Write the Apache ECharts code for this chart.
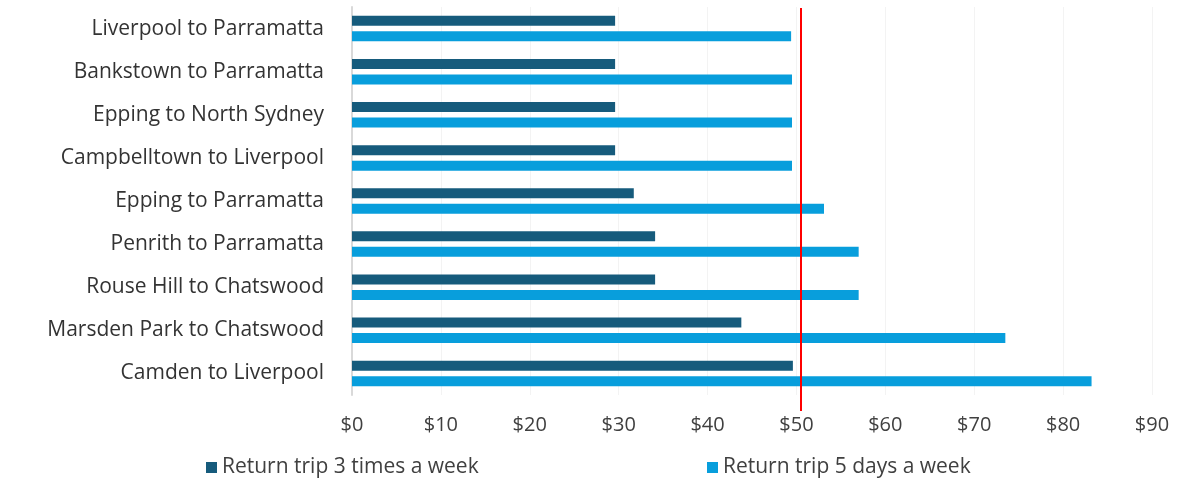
<!DOCTYPE html>
<html lang="en">

<head>
    <meta charset="UTF-8">
    <title>Return trip costs</title>
    <script src="https://cdn.jsdelivr.net/npm/echarts@6/dist/echarts.min.js"></script>
    <style>
        body,
        html {
            padding: 0;
            margin: 0;
            background: #fff;
        }

        #chart-panel {
            height: 481px;
            width: 1183px;
        }
    </style>
</head>

<body>
    <div id="chart-panel"></div>
    <script>
        // routes, top to bottom
        var routes = [
            'Liverpool to Parramatta',
            'Bankstown to Parramatta',
            'Epping to North Sydney',
            'Campbelltown to Liverpool',
            'Epping to Parramatta',
            'Penrith to Parramatta',
            'Rouse Hill to Chatswood',
            'Marsden Park to Chatswood',
            'Camden to Liverpool'
        ];
        var threeTimes = [29.6, 29.6, 29.6, 29.6, 31.7, 34.1, 34.1, 43.8, 49.6];
        var fiveDays = [49.4, 49.5, 49.5, 49.5, 53.1, 57.0, 57.0, 73.5, 83.2];
        var threshold = 50.5;

        var font = 'Open Sans';
        var legendText = { fontSize: 21, color: '#404040', fontFamily: font };
        var option = {
            backgroundColor: '#fff',
            animation: false,
            textStyle: { fontFamily: font },
            legend: [{
                bottom: -2,
                left: 201,
                itemWidth: 11,
                itemHeight: 11,
                icon: 'rect',
                textStyle: legendText,
                data: ['Return trip 3 times a week']
            }, {
                bottom: -2,
                left: 702,
                itemWidth: 11,
                itemHeight: 11,
                icon: 'rect',
                textStyle: legendText,
                data: ['Return trip 5 days a week']
            }],
            grid: [
                { left: 352, right: 31, top: 7, bottom: 86 },
                // only there so the red line can run a little past the axis
                { left: 352, right: 31, top: 8, bottom: 70 }
            ],
            xAxis: [{
                type: 'value',
                min: 0,
                max: 90,
                interval: 10,
                axisLine: { show: false },
                axisTick: { show: false },
                splitLine: { lineStyle: { color: '#f3f3f3', width: 1 } },
                axisLabel: {
                    formatter: '${value}',
                    fontSize: 20,
                    color: '#404040',
                    margin: 20
                }
            }, {
                gridIndex: 1,
                type: 'value',
                min: 0,
                max: 90,
                show: false
            }],
            yAxis: [{
                type: 'category',
                inverse: true,
                data: routes,
                axisLine: { lineStyle: { color: '#d9d9d9', width: 2 } },
                axisTick: { show: false },
                axisLabel: { fontSize: 21, color: '#333', margin: 28 }
            }, {
                gridIndex: 1,
                type: 'category',
                data: routes,
                show: false
            }],
            series: [{
                name: 'Return trip 3 times a week',
                type: 'bar',
                data: threeTimes,
                barWidth: 10,
                barGap: '55%',
                itemStyle: { color: '#165b7c' }
            }, {
                name: 'Return trip 5 days a week',
                type: 'bar',
                data: fiveDays,
                barWidth: 10,
                barGap: '55%',
                itemStyle: { color: '#089edc' }
            }, {
                type: 'bar',
                xAxisIndex: 1,
                yAxisIndex: 1,
                data: [],
                markLine: {
                    symbol: 'none',
                    silent: true,
                    label: { show: false },
                    lineStyle: { color: '#ff0000', width: 2, type: 'solid' },
                    data: [{ xAxis: threshold }]
                }
            }]
        };

        var chartVM = echarts.init(document.getElementById('chart-panel'));
        chartVM.setOption(option);
    </script>
</body>

</html>
